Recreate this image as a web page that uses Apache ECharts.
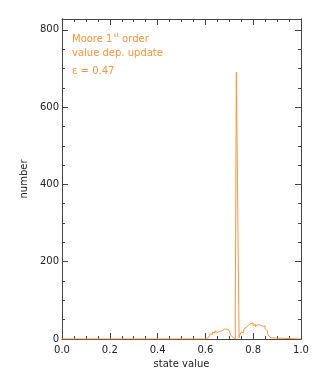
<!DOCTYPE html>
<html>
<head>
<meta charset="utf-8">
<script src="https://cdn.jsdelivr.net/npm/echarts@6/dist/echarts.min.js"></script>
<style>html,body{margin:0;padding:0;background:#fff}#c{width:319px;height:379px}</style>
</head>
<body>
<div id="c"></div>
<script>
// Histogram bin starts (state value) and counts
var binStart = [0.000, 0.595, 0.600, 0.605, 0.610, 0.615, 0.620, 0.625, 0.630, 0.635, 0.640, 0.645, 0.650, 0.655, 0.660, 0.665, 0.670, 0.675, 0.680, 0.685, 0.690, 0.695, 0.700, 0.705, 0.710, 0.715, 0.720, 0.725, 0.7295, 0.7375, 0.741, 0.745, 0.750, 0.755, 0.760, 0.765, 0.770, 0.775, 0.780, 0.785, 0.790, 0.795, 0.800, 0.805, 0.810, 0.815, 0.820, 0.825, 0.830, 0.835, 0.840, 0.845, 0.850, 0.855, 0.860, 0.865, 0.870, 0.875, 1.000];
var counts   = [0, 0, 1, 2, 5, 10, 13, 12, 18, 15, 21, 17, 22, 20, 23, 21, 24, 26, 28, 25, 27, 22, 17, 10, 5, 1, 0, 88, 690, 200, 3, 12, 18, 16, 25, 30, 33, 35, 37, 40, 38, 41, 34, 38, 32, 37, 38, 36, 35, 33, 30, 34, 26, 21, 14, 8, 3, 0, 0];
var xTicks = [0.0, 0.2, 0.4, 0.6, 0.8, 1.0];
var yTicks = [0, 200, 400, 600, 800];
var annot = ['value dep. update', '\u03b5 = 0.47'];

var orange = '#ff9440';
var axisCol = '#444';
var font = 'DejaVu Sans';
var data = binStart.map(function (x, i) { return [x, counts[i]]; });

var common = {
  axisLine: { show: true, onZero: false, lineStyle: { color: axisCol, width: 1 } },
  splitLine: { show: false },
  axisTick: { show: true, inside: true, length: 6, lineStyle: { color: axisCol } },
  minorTick: { show: true, splitNumber: 4, length: 3, lineStyle: { color: axisCol } }
};
function ax(extra) { return Object.assign({}, JSON.parse(JSON.stringify(common)), extra); }

var chart = echarts.init(document.getElementById('c'), null, { renderer: 'canvas' });
chart.setOption({
  animation: false,
  grid: { left: 62, right: 18, top: 19, bottom: 40 },
  xAxis: [
    ax({ type: 'value', position: 'bottom', min: 0, max: 1, interval: 0.2,
      name: 'state value', nameLocation: 'middle', nameGap: 19,
      nameTextStyle: { fontFamily: font, fontSize: 10, color: '#222' },
      axisLabel: { margin: 6, fontFamily: font, fontSize: 10, color: '#222',
        formatter: function (v) { return v.toFixed(1); } } }),
    ax({ type: 'value', position: 'top', min: 0, max: 1, interval: 0.2, axisLabel: { show: false } })
  ],
  yAxis: [
    ax({ type: 'value', position: 'left', min: 0, max: 828, interval: 200,
      name: 'number', nameLocation: 'middle', nameGap: 28,
      nameTextStyle: { fontFamily: font, fontSize: 10, color: '#222' },
      axisLabel: { margin: 3, fontFamily: font, fontSize: 10, color: '#222', showMaxLabel: false,
        formatter: function (v) { return yTicks.indexOf(v) >= 0 ? String(v) : ''; } },
      minorTick: { show: false } }),
    ax({ type: 'value', position: 'left', min: 0, max: 828, interval: 50,
      axisTick: { show: true, inside: true, length: 3, lineStyle: { color: axisCol } },
      minorTick: { show: false }, axisLabel: { show: false } }),
    ax({ type: 'value', position: 'right', min: 0, max: 828, interval: 200,
      axisLabel: { show: false }, minorTick: { show: false } }),
    ax({ type: 'value', position: 'right', min: 0, max: 828, interval: 50,
      axisTick: { show: true, inside: true, length: 3, lineStyle: { color: axisCol } },
      minorTick: { show: false }, axisLabel: { show: false } })
  ],
  series: [{
    type: 'line', xAxisIndex: 0, yAxisIndex: 0, step: 'end', data: data,
    showSymbol: false, symbol: 'none',
    lineStyle: { color: orange, width: 1 }, z: 1
  }],
  graphic: [
    { type: 'text', left: 72, top: 32, z: 10,
      style: { text: '{a|Moore 1}{s|st}{a| order}', fill: orange,
        rich: { a: { fontFamily: font, fontSize: 10, fill: orange, verticalAlign: 'bottom', lineHeight: 12 },
                s: { fontFamily: font, fontSize: 6, fill: orange, verticalAlign: 'top', lineHeight: 12, padding: [0, 0, 5, 1] } } } },
    { type: 'text', left: 72, top: 48, z: 10,
      style: { text: annot[0], fill: orange, font: '10px "DejaVu Sans"' } },
    { type: 'text', left: 72, top: 66, z: 10,
      style: { text: annot[1], fill: orange, font: '10px "DejaVu Sans"' } }
  ]
});
</script>
</body>
</html>
